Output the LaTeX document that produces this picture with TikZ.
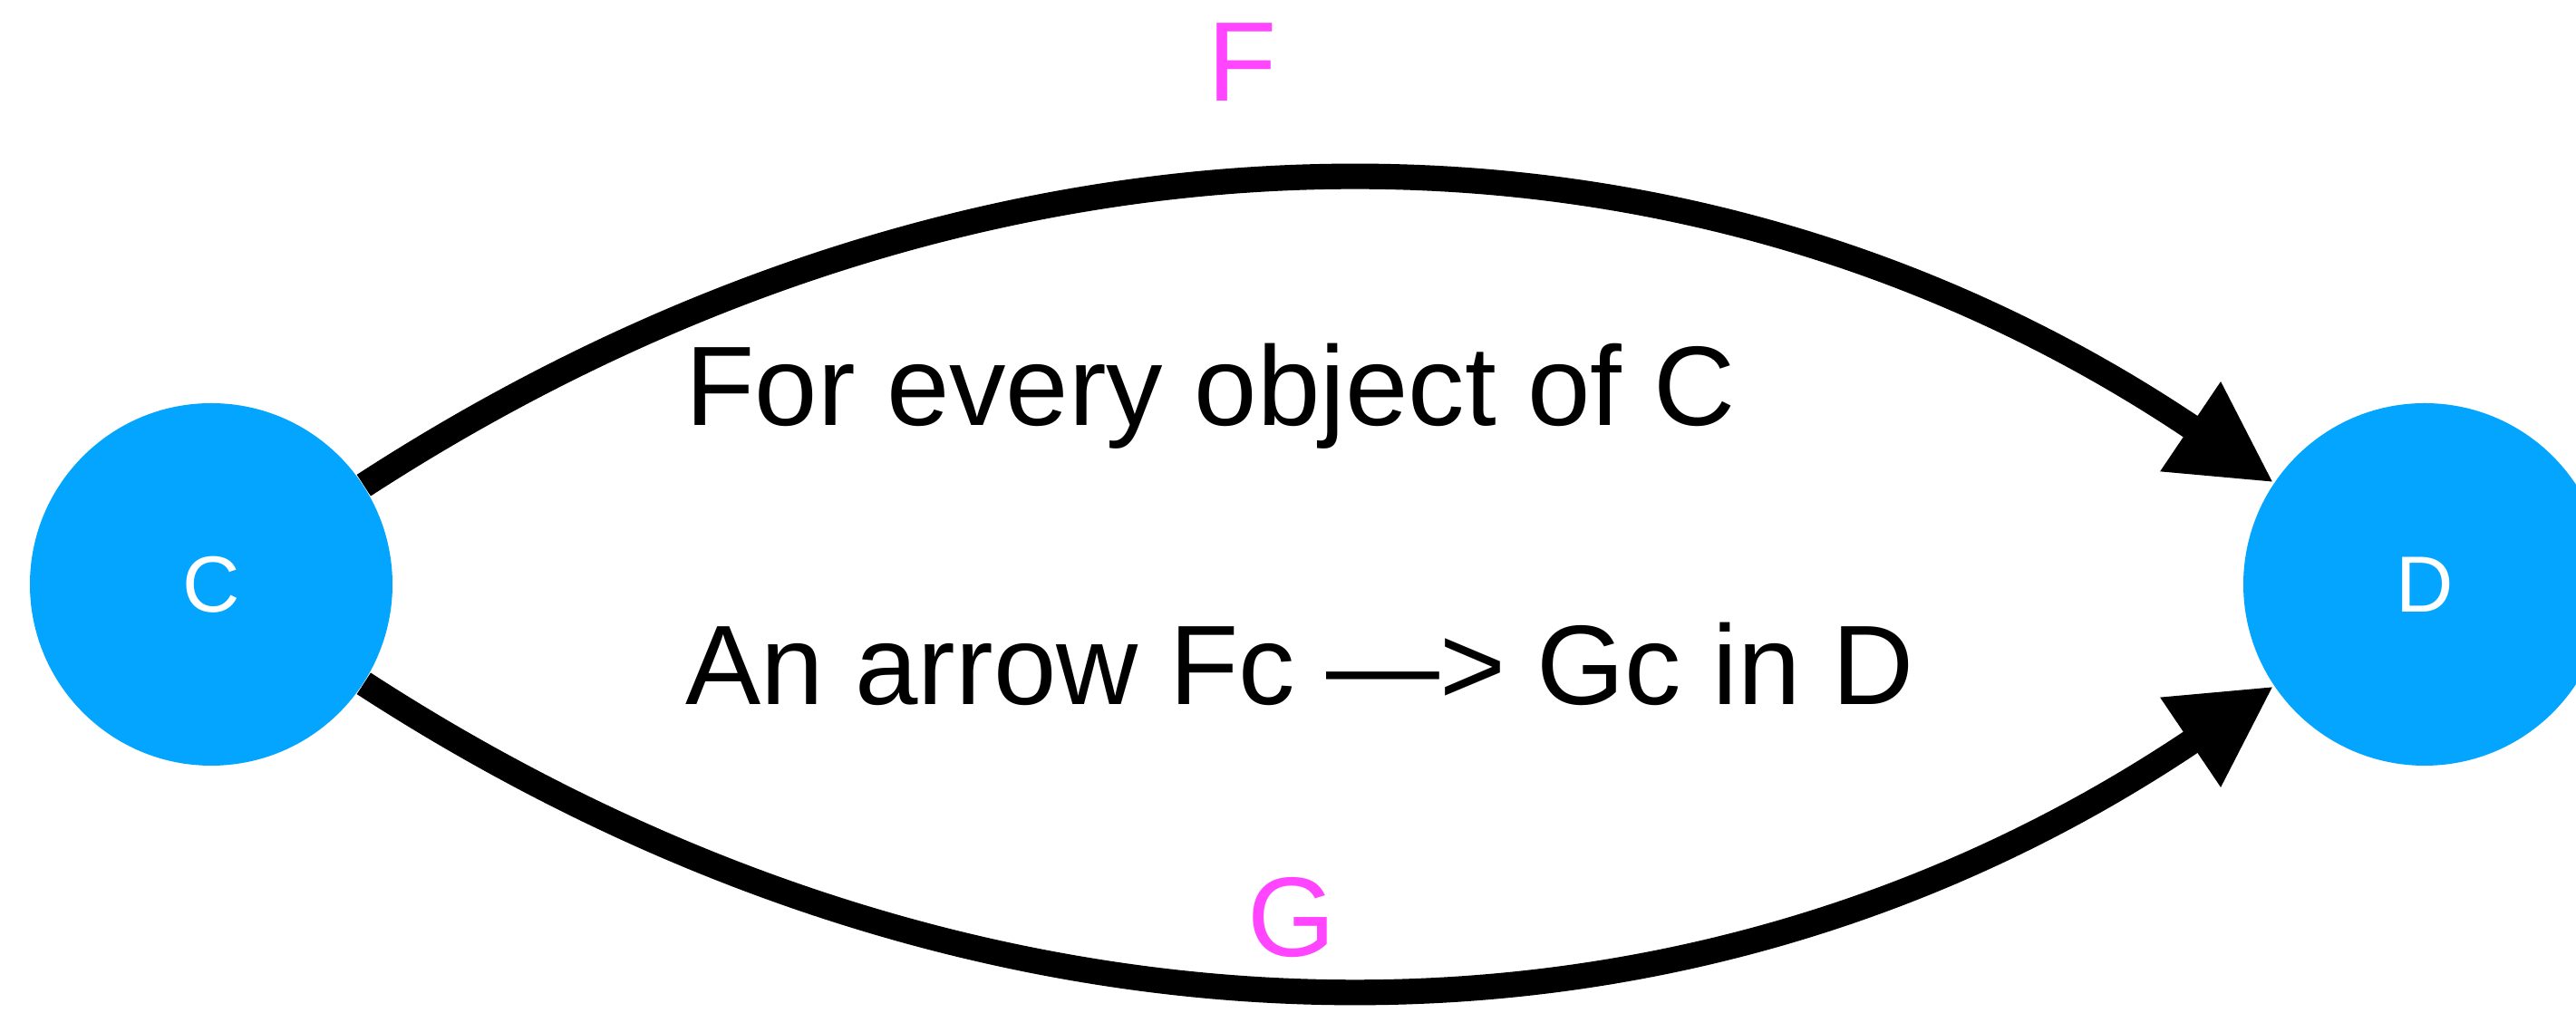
\documentclass[tikz,border=0pt]{standalone}
\usepackage{fontspec}
\setmainfont{Liberation Sans}
\usetikzlibrary{positioning,arrows.meta}
\definecolor{objBlue}{HTML}{03A5FF}
\definecolor{funMag}{HTML}{FF45FF}

\begin{document}
\begin{tikzpicture}[
  every node/.style={font=\fontsize{35.5}{43}\selectfont},
  obj/.style={circle, fill=objBlue, text=white, minimum size=4cm, inner sep=0pt,
              font=\fontsize{25}{30}\selectfont},
  arr/.style={-{Triangle[length=1.11cm, width=1.11cm]}, line width=8pt, black},
  fun/.style={text=funMag, anchor=base}
]
  \useasboundingbox (0,0) rectangle (28.42,11.18);
  \node[obj] (catC) at (2.33,4.73) {C};
  \node[obj] (catD) at (26.75,4.73) {D};
  \node[anchor=base west] (every) at (7.44,6.48) {For every object of C};
  \node[anchor=base west] (comp) at (7.44,3.40) {An arrow Fc —> Gc in D};
  \node[fun] (labF) at (13.71,10.06) {F};
  \node[fun] (labG) at (14.25,0.62) {G};
  \draw[arr] (catC) to[out=33, in=146, looseness=0.975] (catD);
  \draw[arr] (catC) to[out=-33, in=-146, looseness=0.975] (catD);
\end{tikzpicture}
\end{document}
